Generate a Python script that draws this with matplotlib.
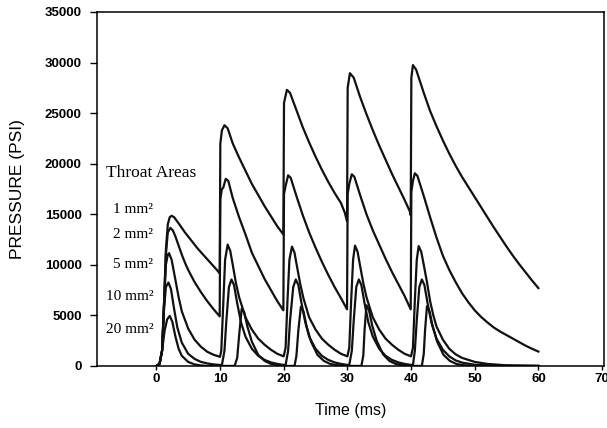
import matplotlib
matplotlib.use('Agg')
import matplotlib.pyplot as plt
import numpy as np

# Pressure traces (time ms, pressure psi) for each throat area
pts_1mm = [(0, 0), (0.5, 200), (0.9, 1500), (1.2, 6000), (1.5, 11500), (1.8, 14000), (2.1, 14700),
           (2.4, 14850), (2.8, 14700), (3.5, 14100), (4.5, 13200), (5.5, 12400), (6.5, 11600),
           (7.5, 10900), (8.5, 10200), (9.5, 9500), (9.95, 9150),
           (10.05, 22000), (10.3, 23300), (10.7, 23800), (11.2, 23500), (12, 22000), (13, 20600),
           (14, 19300), (15, 18000), (16, 16900), (17, 15800), (18, 14800), (19, 13800), (19.95, 13000),
           (20.05, 26000), (20.5, 27300), (21, 27000), (22, 25300), (23, 23600), (24, 22100),
           (25, 20700), (26, 19400), (27, 18200), (28, 17100), (29, 16100), (29.6, 15150), (29.95, 14300),
           (30.05, 27500), (30.4, 28950), (31, 28500), (32, 26600), (33, 24900), (34, 23300),
           (35, 21800), (36, 20400), (37, 19000), (38, 17700), (39, 16400), (39.8, 15300), (39.95, 14900),
           (40.05, 28500), (40.3, 29750), (40.8, 29300), (42, 27000), (43, 25200), (44, 23700),
           (45, 22300), (46, 21000), (47, 19800), (48, 18700), (49, 17700), (50, 16700), (51, 15700),
           (52, 14700), (53, 13700), (54, 12750), (55, 11800), (56, 10900), (57, 10050), (58, 9250),
           (59, 8450), (60, 7700)]

pts_2mm = [(0, 0), (0.5, 200), (0.9, 1500), (1.2, 6000), (1.5, 11000), (1.8, 13200), (2.2, 13650),
           (2.6, 13400), (3, 12800), (3.5, 11900), (4, 11000), (4.5, 10200), (5, 9500), (6, 8300),
           (7, 7300), (8, 6400), (9, 5600), (9.95, 4900),
           (10.05, 16500), (10.3, 17500), (10.5, 17600), (10.9, 18500), (11.3, 18300), (12, 16600),
           (13, 14700), (14, 13000), (15, 11200), (16, 9900), (17, 8600), (18, 7500), (19, 6400), (19.95, 5500),
           (20.05, 17000), (20.3, 17800), (20.7, 18850), (21.1, 18600), (22, 16800), (23, 14900),
           (24, 13200), (25, 11700), (26, 10300), (27, 9000), (28, 7800), (29, 6700), (29.95, 5600),
           (30.05, 17000), (30.3, 18000), (30.7, 18950), (31.1, 18700), (32, 16900), (33, 15000),
           (34, 13400), (35, 12000), (36, 10600), (37, 9300), (38, 8100), (39, 6900), (39.95, 5600),
           (40.05, 17200), (40.3, 18300), (40.6, 19050), (41, 18800), (42, 16800), (43, 14700),
           (44, 12700), (45, 10900), (46, 9500), (47, 8300), (48, 7200), (49, 6300), (50, 5500),
           (51, 4850), (52, 4300), (53, 3800), (54, 3400), (55, 3050), (56, 2700), (57, 2350),
           (58, 2000), (59, 1700), (60, 1420)]

pts_5mm = [(0, 0), (0.5, 200), (0.9, 1500), (1.2, 6000), (1.5, 10000), (1.8, 11000), (2.0, 11150),
           (2.4, 10500), (3, 8500), (3.5, 6800), (4, 5400), (5, 3700), (6, 2600), (7, 1900),
           (8, 1400), (9, 1100), (10, 900),
           (10.2, 1500), (10.5, 6000), (10.8, 10500), (11.2, 12000), (11.6, 11400), (12, 10000),
           (12.5, 8200), (13, 6800), (14, 4800), (15, 3600), (16, 2700), (17, 2100), (18, 1600),
           (19, 1200), (20, 950),
           (20.3, 1800), (20.6, 6500), (20.9, 10500), (21.3, 11800), (21.7, 11200), (22.1, 9800),
           (22.6, 8100), (23.1, 6700), (24, 4800), (25, 3600), (26, 2700), (27, 2100), (28, 1600),
           (29, 1200), (30, 950),
           (30.3, 1800), (30.6, 6500), (30.9, 10500), (31.2, 11900), (31.6, 11300), (32, 9900),
           (32.5, 8200), (33, 6800), (34, 4800), (35, 3600), (36, 2700), (37, 2100), (38, 1600),
           (39, 1200), (40, 950),
           (40.3, 1800), (40.6, 6500), (40.9, 10500), (41.2, 11850), (41.6, 11300), (42, 10000),
           (42.5, 8300), (43, 6400), (43.5, 5000), (44, 3900), (45, 2600), (46, 1700), (47, 1150),
           (48, 800), (50, 400), (52, 200), (55, 60), (60, 0)]

pts_10mm = [(0, 0), (0.5, 200), (0.9, 1500), (1.2, 5500), (1.5, 7800), (1.9, 8250), (2.3, 7600),
            (2.8, 5600), (3.3, 3800), (4, 2300), (5, 1200), (6, 700), (7, 400), (8, 250), (9, 150),
            (10, 100),
            (10.3, 100), (10.7, 1500), (11.0, 4500), (11.4, 7800), (11.8, 8550), (12.2, 8000),
            (12.7, 6200), (13.3, 4300), (14, 2900), (15, 1700), (16, 1000), (17, 600), (18, 350),
            (19, 200), (20, 100),
            (20.3, 100), (20.7, 1500), (21.0, 4500), (21.5, 7800), (21.9, 8550), (22.3, 8000),
            (22.8, 6200), (23.4, 4300), (24, 2900), (25, 1700), (26, 1000), (27, 600), (28, 350),
            (29, 200), (30, 100),
            (30.3, 100), (30.7, 1500), (31.0, 4500), (31.4, 7800), (31.8, 8550), (32.2, 8000),
            (32.7, 6200), (33.3, 4300), (34, 2900), (35, 1700), (36, 1000), (37, 600), (38, 350),
            (39, 200), (40, 100),
            (40.3, 100), (40.6, 1500), (40.9, 4500), (41.3, 7800), (41.7, 8550), (42.1, 8000),
            (42.6, 6200), (43.2, 4300), (44, 2700), (45, 1600), (46, 950), (47, 550), (48, 330),
            (50, 120), (55, 20), (60, 0)]

pts_20mm = [(0, 0), (0.5, 200), (0.9, 1500), (1.3, 3500), (1.7, 4600), (2.1, 4950), (2.5, 4400),
            (3, 2900), (3.5, 1700), (4, 1000), (5, 400), (6, 150), (7, 50), (8, 0), (12.3, 0),
            (12.7, 800), (13.0, 3000), (13.4, 5650), (13.8, 5300), (14.3, 3900), (15, 2400),
            (16, 1100), (17, 500), (18, 200), (19, 80), (20, 0), (21.7, 0),
            (22.0, 1000), (22.3, 3500), (22.7, 5850), (23.1, 5400), (23.6, 3900), (24.3, 2400),
            (25.3, 1100), (26.3, 500), (27.3, 200), (28.3, 80), (30, 0), (32.2, 0),
            (32.5, 1000), (32.7, 3500), (33.0, 6000), (33.4, 5500), (33.9, 4000), (34.6, 2500),
            (35.6, 1150), (36.6, 500), (37.6, 200), (38.6, 80), (40, 0), (41.7, 0),
            (42.0, 1200), (42.2, 3500), (42.5, 5900), (42.9, 5400), (43.4, 3900), (44.1, 2400),
            (45.1, 1100), (46.1, 500), (47.1, 200), (48.1, 80), (50, 0), (60, 0)]

series = [pts_1mm, pts_2mm, pts_5mm, pts_10mm, pts_20mm]
area_labels = ['1 mm²', '2 mm²', '5 mm²', '10 mm²', '20 mm²']
label_y = [15500, 12950, 10000, 6850, 3650]

x_ticks = [0, 10, 20, 30, 40, 50, 60, 70]
y_ticks = [0, 5000, 10000, 15000, 20000, 25000, 30000, 35000]

sans = 'Liberation Sans'
serif = 'Liberation Serif'

fig = plt.figure(figsize=(6.07, 4.28), dpi=100)
ax = fig.add_axes([0.16, 0.145, 0.835, 0.827])

for pts in series:
    t, p = np.array(pts).T
    ax.plot(t, p, color='#111111', linewidth=1.6, solid_joinstyle='round')

ax.set_xlim(-9.3, 70.3)
ax.set_ylim(0, 35000)
ax.set_xticks(x_ticks)
ax.set_yticks(y_ticks)
ax.set_xticklabels([str(v) for v in x_ticks], fontfamily=sans, fontweight='bold', fontsize=9.5)
ax.set_yticklabels([str(v) for v in y_ticks], fontfamily=sans, fontweight='bold', fontsize=9.5)
ax.tick_params(axis='x', direction='out', length=3, width=1, pad=2)
ax.tick_params(axis='y', direction='out', length=5, width=1, pad=6)
for s in ax.spines.values():
    s.set_linewidth(1.1)

ax.set_xlabel('Time (ms)', fontfamily=sans, fontsize=11.5, labelpad=13)
ax.set_ylabel('PRESSURE (PSI)', fontfamily=sans, fontsize=12.5, labelpad=14)

ax.text(-7.9, 19100, 'Throat Areas', fontfamily=serif, fontsize=12.5, ha='left', va='center')
for lab, y in zip(area_labels, label_y):
    ax.text(-0.5, y, lab, fontfamily=serif, fontsize=11, ha='right', va='center')

fig.savefig('out.png', dpi=100)
